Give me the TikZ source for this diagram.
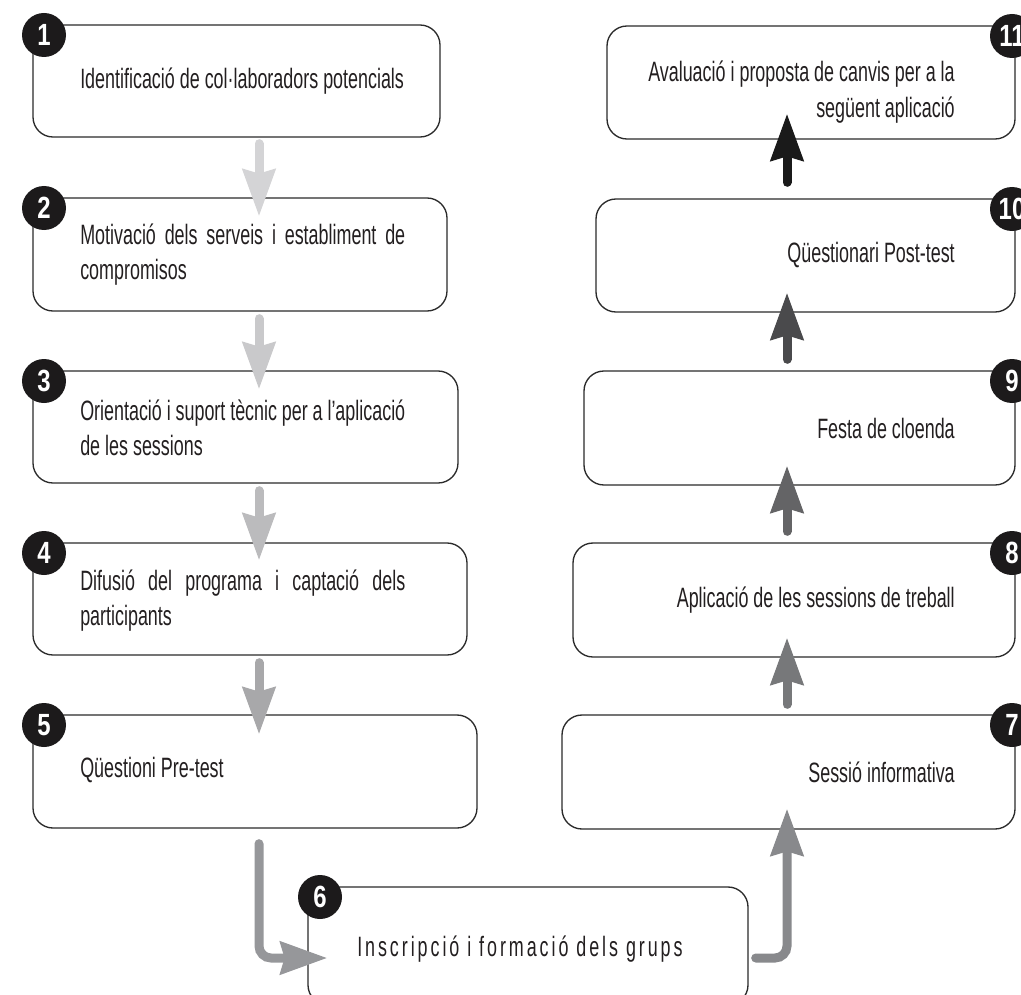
\documentclass[tikz,border=0pt]{standalone}
\usepackage{fontspec}
\newfontfamily\tf[FakeStretch=0.64]{Liberation Sans}
\newfontfamily\tfls[FakeStretch=0.64,LetterSpace=10.5]{Liberation Sans}
\newfontfamily\nf[FakeStretch=0.78]{Liberation Sans}
\usetikzlibrary{arrows.meta,fit,calc}
\definecolor{boxline}{HTML}{2B2B2B}
\definecolor{txtc}{HTML}{231F20}
\definecolor{numc}{HTML}{1C1A1B}
\definecolor{ga}{HTML}{D4D4D6}
\definecolor{gb}{HTML}{C9C9CB}
\definecolor{gc}{HTML}{BBBBBD}
\definecolor{gd}{HTML}{A8A8AA}
\definecolor{ge}{HTML}{96979A}
\definecolor{gf}{HTML}{88898C}
\definecolor{gg}{HTML}{77787A}
\definecolor{gh}{HTML}{646466}
\definecolor{gi}{HTML}{4A4A4C}
\definecolor{gj}{HTML}{1A1A1A}
\begin{document}
\begin{tikzpicture}[x=0.75pt,y=-0.75pt,
  box/.style={draw=boxline, line width=1pt, rounded corners=15pt, inner sep=0pt},
  txt/.style={font=\tf\fontsize{21}{26.6}\selectfont, text=txtc, inner sep=0pt},
  num/.style={circle, fill=numc, text=white, minimum size=33pt, inner sep=0pt,
    font=\nf\bfseries\fontsize{23}{23}\selectfont},
  arr/.style={line width=6.75pt, line cap=round, rounded corners=9pt,
    -{Stealth[length=35pt,width=24pt,inset=3pt]}}]
\path[use as bounding box, fill=white] (0,0) rectangle (1021,995);
\clip (0,0) rectangle (1021,995);
\coordinate (L) at (259,0);
\coordinate (R) at (787,0);
% boxes
\node[box, fit={(33,25) (440,137)}] (b1) {};
\node[box, fit={(33,198) (447,311)}] (b2) {};
\node[box, fit={(33,371) (458,483)}] (b3) {};
\node[box, fit={(33,543) (467,655)}] (b4) {};
\node[box, fit={(33,715) (477,828)}] (b5) {};
\node[box, fit={(308,887) (748,1005)}] (b6) {};
\node[box, fit={(562,715) (1015,829)}] (b7) {};
\node[box, fit={(573,543) (1015,657)}] (b8) {};
\node[box, fit={(584,371) (1015,485)}] (b9) {};
\node[box, fit={(596,199) (1015,312)}] (b10) {};
\node[box, fit={(607,26) (1015,139)}] (b11) {};
% texts
\node[txt, anchor=west] (t1) at (80,81) {Identificació de col·laboradors potencials};
\node[txt, anchor=west, align=left] (t2) at (80,254.5)
  {\makebox[243.75pt][s]{Motivació dels serveis i establiment de}\\compromisos};
\node[txt, anchor=west, align=left] (t3) at (80,428)
  {\makebox[243.75pt][s]{Orientació i suport tècnic per a l’aplicació}\\de les sessions};
\node[txt, anchor=west, align=left] (t4) at (80,600.5)
  {\makebox[243.75pt][s]{Difusió del programa i captació dels}\\participants};
\node[txt, anchor=west] (t5) at (80,770) {Qüestioni Pre-test};
\node[txt, anchor=west, font=\tfls\fontsize{21}{26.6}\selectfont] (t6) at (357,949)
  {Inscripció i formació dels grups};
\node[txt, anchor=east] (t7) at (955,772) {Sessió informativa};
\node[txt, anchor=east] (t8) at (955,600) {Aplicació de les sessions de treball};
\node[txt, anchor=east] (t9) at (955,428) {Festa de cloenda};
\node[txt, anchor=east] (t10) at (955,255) {Qüestionari Post-test};
\node[txt, anchor=east, align=right] (t11) at (955,92)
  {Avaluació i proposta de canvis per a la\\següent aplicació};
% arrows
\draw[arr, ga] ($(b1.south -| L)+(0,6)$) -- ($(b2.north -| L)+(0,19)$);
\draw[arr, gb] ($(b2.south -| L)+(0,7)$) -- ($(b3.north -| L)+(0,19)$);
\draw[arr, gc] ($(b3.south -| L)+(0,7)$) -- ($(b4.north -| L)+(0,18)$);
\draw[arr, gd] ($(b4.south -| L)+(0,7)$) -- ($(b5.north -| L)+(0,20)$);
\draw[arr, ge] ($(b5.south -| L)+(0,15)$) |- ($(b6.west)+(20,12)$);
\draw[arr, gf] ($(b6.east)+(7,12)$) -| ($(b7.south -| R)+(0,-21)$);
\draw[arr, gg] ($(b7.north -| R)+(0,-10)$) -- ($(b8.south -| R)+(0,-20)$);
\draw[arr, gh] ($(b8.north -| R)+(0,-11)$) -- ($(b9.south -| R)+(0,-20)$);
\draw[arr, gi] ($(b9.north -| R)+(0,-11)$) -- ($(b10.south -| R)+(0,-20)$);
\draw[arr, gj] ($(b10.north -| R)+(0,-16)$) -- ($(b11.south -| R)+(0,-26)$);
% number circles
\node[num] (c1) at (44,35) {1};
\node[num] (c2) at (44,208) {2};
\node[num] (c3) at (44,381) {3};
\node[num] (c4) at (44,553) {4};
\node[num] (c5) at (44,725) {5};
\node[num] (c6) at (320,897) {6};
\node[num] (c7) at (1012,725) {7};
\node[num] (c8) at (1012,553) {8};
\node[num] (c9) at (1012,381) {9};
\node[num] (c10) at (1012,209) {10};
\node[num] (c11) at (1012,36) {11};
\end{tikzpicture}
\end{document}
